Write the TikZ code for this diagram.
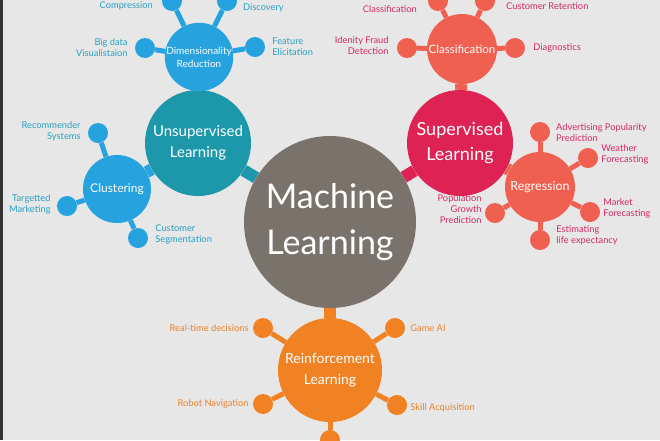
\documentclass[tikz,border=0pt]{standalone}
\usepackage{fontspec}
\setmainfont{Lato}
\usetikzlibrary{positioning, backgrounds}
\definecolor{mlgrey}{RGB}{122,115,107}
\definecolor{mlteal}{RGB}{28,152,170}
\definecolor{mlblue}{RGB}{38,162,222}
\definecolor{mlcrimson}{RGB}{222,34,84}
\definecolor{mlcoral}{RGB}{240,96,80}
\definecolor{mlorange}{RGB}{240,130,36}
\definecolor{mlpaper}{RGB}{231,231,231}
\definecolor{mlbluetext}{RGB}{40,160,196}
\definecolor{mlredtext}{RGB}{212,40,100}
\definecolor{mlorangetext}{RGB}{236,130,40}

\begin{document}
\begin{tikzpicture}[
  x=1pt, y=-1pt,
  hub/.style={circle, inner sep=0pt, text=white, align=center},
  dot/.style={circle, inner sep=0pt, minimum size=20pt},
  lbl/.style={font=\fontsize{9.3}{11}\selectfont, inner sep=1pt},
  neck/.style={line width=12pt},
  twig/.style={line width=5pt},
]
  \useasboundingbox (0,0) rectangle (660,440);
  % main hubs
  \node[hub, fill=mlgrey, minimum size=172pt, font=\fontsize{34}{46}\selectfont]
    (ml) at (330,222) {Machine\\Learning};
  \node[hub, fill=mlteal, minimum size=106pt, font=\fontsize{15}{21}\selectfont]
    (unsup) at (198,143) {Unsupervised\\Learning};
  \node[hub, fill=mlcrimson, minimum size=106pt, font=\fontsize{18}{25}\selectfont]
    (sup) at (460,143) {Supervised\\Learning};
  \node[hub, fill=mlorange, minimum size=104pt, font=\fontsize{14}{21}\selectfont]
    (reinf) at (330,370) {Reinforcement\\Learning};

  % sub hubs
  \node[hub, fill=mlblue, minimum size=66pt, font=\fontsize{10}{13}\selectfont]
    (dimred) at (199,57) {Dimensionality\\Reduction};
  \node[hub, fill=mlblue, minimum size=68pt, font=\fontsize{12}{14}\selectfont]
    (clust) at (117,189) {Clustering};
  \node[hub, fill=mlcoral, minimum size=70pt, font=\fontsize{11.5}{13}\selectfont]
    (classif) at (462,49) {Classification};
  \node[hub, fill=mlcoral, minimum size=70pt, font=\fontsize{12.5}{14}\selectfont]
    (regr) at (540,187) {Regression};

  % dimensionality reduction
  \node[dot, fill=mlblue] (dr1) at (145,48) {};
  \node[dot, fill=mlblue] (dr2) at (255,47) {};
  \node[dot, fill=mlblue] (dr3) at (172,1) {};
  \node[dot, fill=mlblue] (dr4) at (227,1) {};
  \node[lbl, text=mlbluetext, align=right, left=6pt of dr1] {Big data\\Visualistaion};
  \node[lbl, text=mlbluetext, align=left, right=6pt of dr2] {Feature\\Elicitation};
  \node[lbl, text=mlbluetext, anchor=east] at (154,6) {Compression};
  \node[lbl, text=mlbluetext, anchor=west] at (242,8) {Discovery};

  % clustering
  \node[dot, fill=mlblue] (cl1) at (98,133) {};
  \node[dot, fill=mlblue] (cl2) at (67,206) {};
  \node[dot, fill=mlblue] (cl3) at (138,238) {};
  \node[lbl, text=mlbluetext, align=right, left=6pt of cl1, yshift=2pt] {Recommender\\Systems};
  \node[lbl, text=mlbluetext, align=right, left=5pt of cl2, yshift=2pt] {Targetted\\Marketing};
  \node[lbl, text=mlbluetext, align=left, right=6pt of cl3, yshift=4pt] {Customer\\Segmentation};

  % classification
  \node[dot, fill=mlcoral] (cf1) at (407,48) {};
  \node[dot, fill=mlcoral] (cf2) at (515,48) {};
  \node[dot, fill=mlcoral] (cf3) at (438,1) {};
  \node[dot, fill=mlcoral] (cf4) at (485,1) {};
  \node[lbl, text=mlredtext, align=right, left=7pt of cf1, yshift=2pt] {Idenity Fraud\\Detection};
  \node[lbl, text=mlredtext, align=left, right=7pt of cf2] {Diagnostics};
  \node[lbl, text=mlredtext, anchor=east] at (418,9) {Classification};
  \node[lbl, text=mlredtext, anchor=west] at (505,6) {Customer Retention};

  % regression
  \node[dot, fill=mlcoral] (rg1) at (540,132) {};
  \node[dot, fill=mlcoral] (rg2) at (588,158) {};
  \node[dot, fill=mlcoral] (rg3) at (590,212) {};
  \node[dot, fill=mlcoral] (rg4) at (540,240) {};
  \node[dot, fill=mlcoral] (rg5) at (495,213) {};
  \node[lbl, text=mlredtext, align=left, anchor=west] at (555,133) {Advertising Popularity\\Prediction};
  \node[lbl, text=mlredtext, align=left, right=2pt of rg2, yshift=4pt] {Weather\\Forecasting};
  \node[lbl, text=mlredtext, align=left, right=2pt of rg3, yshift=4pt] {Market\\Forecasting};
  \node[lbl, text=mlredtext, align=left, right=5pt of rg4, yshift=5pt] {Estimating\\life expectancy};
  \node[lbl, text=mlredtext, align=right, left=2pt of rg5, yshift=4pt] {Population\\Growth\\Prediction};

  % reinforcement learning
  \node[dot, fill=mlorange] (rl1) at (263,328) {};
  \node[dot, fill=mlorange] (rl2) at (395,328) {};
  \node[dot, fill=mlorange] (rl3) at (263,404) {};
  \node[dot, fill=mlorange] (rl4) at (397,405) {};
  \node[dot, fill=mlorange] (rl5) at (330,440) {};
  \node[lbl, text=mlorangetext, left=3pt of rl1] {Real-time decisions};
  \node[lbl, text=mlorangetext, right=4pt of rl2] {Game AI};
  \node[lbl, text=mlorangetext, left=3pt of rl3] {Robot Navigation};
  \node[lbl, text=mlorangetext, right=2pt of rl4, yshift=-3pt] {Skill Acquisition};

  \begin{scope}[on background layer]
    \fill[mlpaper] (0,0) rectangle (660,440);
    \fill[black!80] (0,0) rectangle (3,440);
    % necks between hubs
    \draw[neck, mlteal] (unsup) -- (ml);
    \draw[neck, mlcrimson] (sup) -- (ml);
    \draw[neck, mlorange] (ml) -- (reinf);
    \draw[neck, mlblue] (dimred) -- (unsup);
    \draw[neck, mlblue] (clust) -- (unsup);
    \draw[neck, mlcoral] (classif) -- (sup);
    \draw[neck, mlcoral] (regr) -- (sup);
    % twigs to the dots
    \foreach \d in {dr1,dr2,dr3,dr4} \draw[twig, mlblue] (dimred) -- (\d);
    \foreach \d in {cl1,cl2,cl3} \draw[twig, mlblue] (clust) -- (\d);
    \foreach \d in {cf1,cf2,cf3,cf4} \draw[twig, mlcoral] (classif) -- (\d);
    \foreach \d in {rg1,rg2,rg3,rg4,rg5} \draw[twig, mlcoral] (regr) -- (\d);
    \foreach \d in {rl1,rl2,rl3,rl4,rl5} \draw[twig, mlorange] (reinf) -- (\d);
  \end{scope}
\end{tikzpicture}
\end{document}
